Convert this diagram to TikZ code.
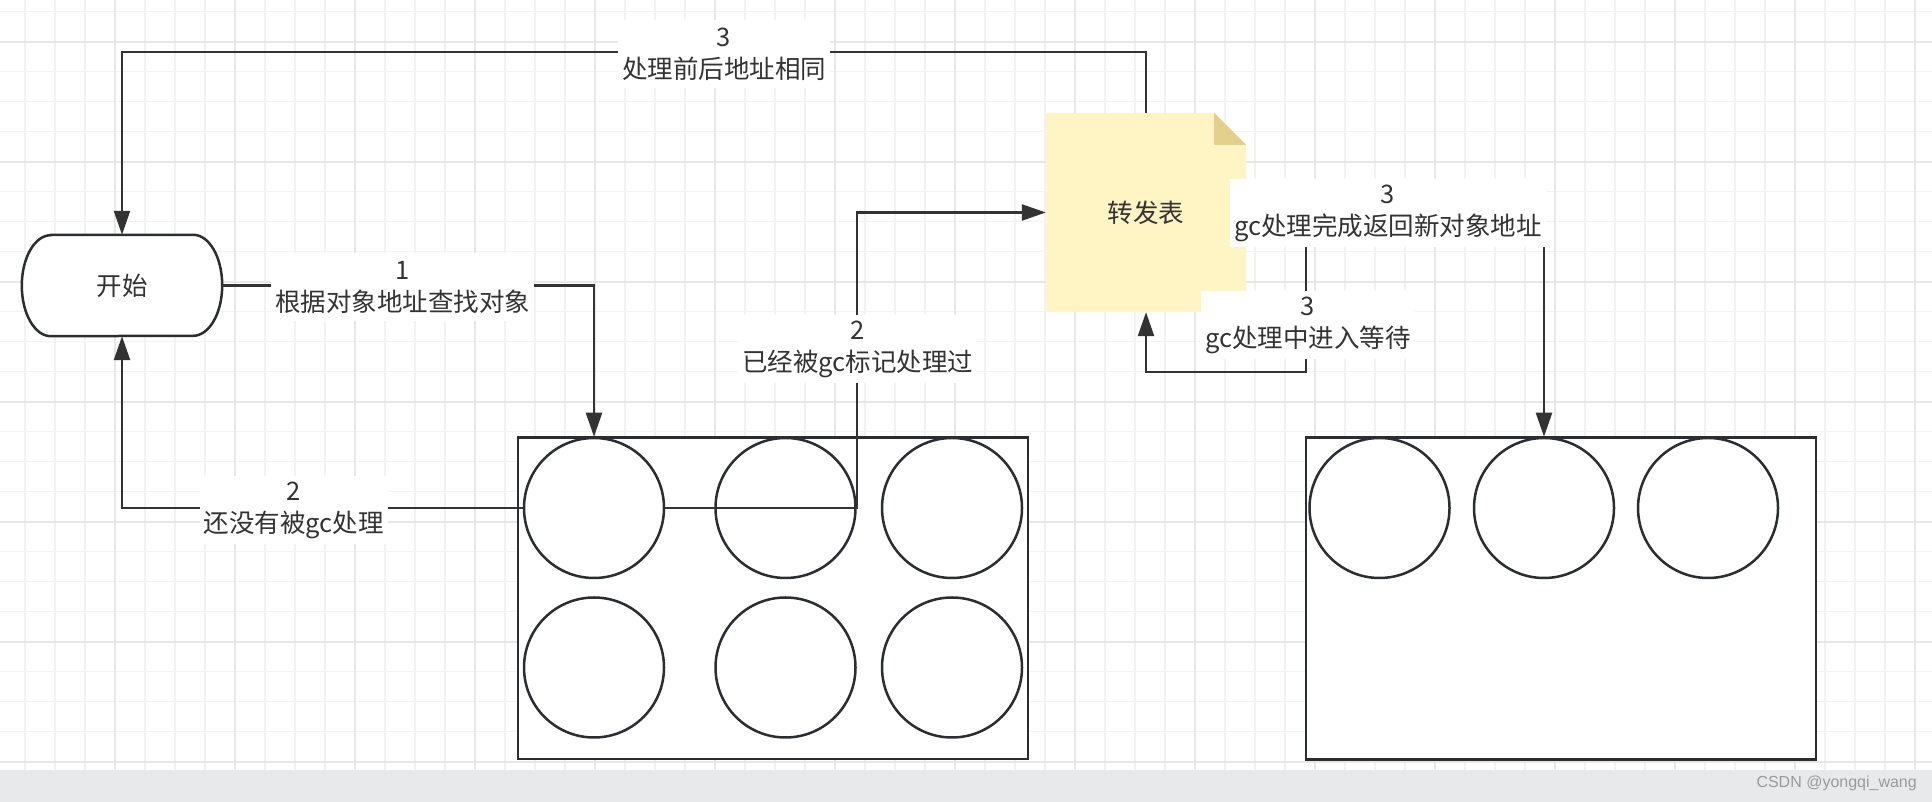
\documentclass[tikz,border=0pt]{standalone}
\usepackage{fontspec}
\newfontfamily\cjk{Noto Sans CJK SC}
\newfontfamily\wmfont{Liberation Sans}
\usetikzlibrary{arrows.meta}
\definecolor{conn}{HTML}{333333}
\definecolor{shp}{HTML}{2A2E33}
\definecolor{txt}{HTML}{333333}
\definecolor{gminor}{HTML}{F2F2F2}
\definecolor{gmajor}{HTML}{E7E7E7}
\definecolor{notey}{HTML}{FFF4C3}
\definecolor{foldy}{HTML}{E2D08C}
\definecolor{barg}{HTML}{E8E9EB}
\definecolor{wmc}{HTML}{9A9A9A}
\pgfdeclarelayer{gridlayer}
\pgfdeclarelayer{shapelayer}
\pgfsetlayers{gridlayer,shapelayer,main}
\begin{document}
\begin{tikzpicture}[x=1pt,y=1pt,
  lbl/.style={font=\cjk\fontsize{25.5}{32}\selectfont, text=txt, fill=white, align=center, inner xsep=4pt, inner ysep=2pt, minimum height=68pt},
  arr/.style={draw=conn, line width=2.4pt, -{Triangle[length=24pt,width=16pt]}},
  box/.style={draw=shp, line width=2.5pt, fill=white, rectangle, inner sep=0pt},
  obj/.style={draw=shp, line width=2.5pt, fill=white, circle, minimum size=140pt, inner sep=0pt},
  ghost/.style={rectangle, inner sep=0pt, font=\cjk\fontsize{25.5}{32}\selectfont, text=txt},
  gline/.style={draw=gminor, line width=1.6pt},
  gmaj/.style={draw=gmajor, line width=1.8pt},
]
\useasboundingbox (0,0) rectangle (1932,802);
\begin{pgfonlayer}{gridlayer}
\fill[white] (0,0) rectangle (1932,802);
\foreach \k in {0,...,63} {\draw[gline] ({25+30*\k},32) -- ({25+30*\k},802);}
\foreach \k in {0,...,25} {\draw[gline] (0,{790.3-30*\k}) -- (1932,{790.3-30*\k});}
\foreach \j in {0,...,15} {\draw[gmaj] ({115+120*\j},32) -- ({115+120*\j},802);}
\foreach \j in {0,...,6} {\draw[gmaj] (0,{760.3-120*\j}) -- (1932,{760.3-120*\j});}
\fill[barg] (0,0) rectangle (1932,32);
\end{pgfonlayer}

% start terminator
\node[ghost, minimum width=200pt, minimum height=101pt] (start) at (122,516.5) {开始};
\begin{pgfonlayer}{shapelayer}
\filldraw[fill=white, draw=shp, line width=2.5pt]
  ([xshift=29pt]start.north west) -- ([xshift=-29pt]start.north east)
  arc[start angle=90, end angle=-90, x radius=29pt, y radius=50.5pt]
  -- ([xshift=29pt]start.south west)
  arc[start angle=270, end angle=90, x radius=29pt, y radius=50.5pt] -- cycle;
\end{pgfonlayer}

% forwarding table note
\node[ghost, minimum width=200pt, minimum height=199pt] (note) at (1146,589.5) {转发表};
\begin{pgfonlayer}{shapelayer}
\fill[notey] (note.north west) -- ([xshift=-32pt]note.north east) -- ([yshift=-32pt]note.north east) -- (note.south east) -- (note.south west) -- cycle;
\fill[foldy] ([xshift=-32pt]note.north east) -- ([xshift=-32pt,yshift=-32pt]note.north east) -- ([yshift=-32pt]note.north east) -- cycle;
\end{pgfonlayer}

% old region
\node[box, minimum width=510pt, minimum height=321.5pt] (oldheap) at (773,203.75) {};
\node[obj] (o1) at (594,294) {};
\node[obj] (o2) at (785.5,294) {};
\node[obj] (o3) at (952,294) {};
\node[obj] (o4) at (594,134.5) {};
\node[obj] (o5) at (785.5,134.5) {};
\node[obj] (o6) at (952,134.5) {};

% new region
\node[box, minimum width=510pt, minimum height=322pt] (newheap) at (1561,203.5) {};
\node[obj] (n1) at (1379.5,294) {};
\node[obj] (n2) at (1544,294) {};
\node[obj] (n3) at (1708,294) {};

% connectors
\coordinate (ctop) at (122,750);
\coordinate (cwait) at (1306,430);
\draw[arr] (start.east) -| (o1.north);
\draw[arr] (o1.west) -| (start.south);
\draw[arr] (o1.east) -- (o2.east) |- (note.west);
\draw[arr] (note.north) |- (ctop) -- (start.north);
\draw[arr] (note.east) -| (n2.north);
\draw[arr] (note.east) -| (cwait) -| (note.south);

% labels
\node[lbl] (l1) at (402.5,514.5) {1\\根据对象地址查找对象};
\node[lbl] (l2a) at (293.5,292) {2\\还没有被gc处理};
\node[lbl] (l2b) at (857.5,452.5) {2\\已经被gc标记处理过};
\node[lbl] (l3a) at (724,748) {3\\处理前后地址相同};
\node[lbl] (l3b) at (1388,588.5) {3\\gc处理完成返回新对象地址};
\node[lbl] (l3c) at (1308,477) {3\\gc处理中进入等待};

% watermark
\node[anchor=east, inner sep=0pt, font=\wmfont\fontsize{16}{16}\selectfont, text=wmc] (wm) at (1917,19) {CSDN @yongqi\_wang};
\end{tikzpicture}
\end{document}
